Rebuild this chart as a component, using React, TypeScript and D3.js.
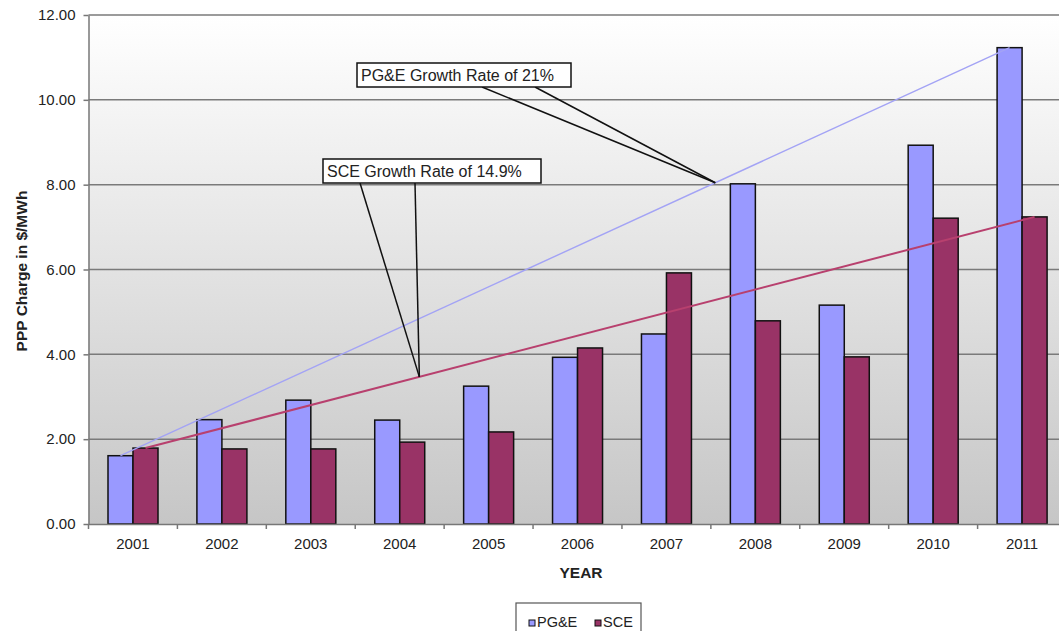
import { useEffect, useRef } from 'react'
import * as d3 from 'd3'

const years = ['2001', '2002', '2003', '2004', '2005', '2006', '2007', '2008', '2009', '2010', '2011']
const pgeValues = [1.61, 2.46, 2.92, 2.45, 3.25, 3.93, 4.48, 8.02, 5.16, 8.93, 11.23]
const sceValues = [1.79, 1.77, 1.77, 1.93, 2.17, 4.15, 5.92, 4.79, 3.94, 7.21, 7.24]
const seriesNames = ['PG&E', 'SCE']
const seriesColors = ['#9999ff', '#993366']
const trendColors = ['#a3a3f5', '#b8406e']
const yTicks = [0, 2, 4, 6, 8, 10, 12]

const W = 1059
const H = 631

const Chart = () => {
  const svgRef = useRef<SVGSVGElement>(null)

  useEffect(() => {
    if (!svgRef.current) return
    const svg = d3.select(svgRef.current)
    svg.selectAll('*').remove()

    const left = 88.5
    const right = 1066.5
    const top = 15
    const bottom = 524
    const font = '"Liberation Sans", Arial, sans-serif'

    const x0 = d3.scaleBand<string>().domain(years).range([left, right])
    const x1 = d3.scaleBand<string>().domain(seriesNames).range([19.5, 69.5])
    const y = d3.scaleLinear().domain([0, 12]).range([bottom, top])

    // background gradient
    const defs = svg.append('defs')
    const grad = defs.append('linearGradient')
      .attr('id', 'bg').attr('x1', 0).attr('y1', 0).attr('x2', 0).attr('y2', 1)
    grad.append('stop').attr('offset', '0%').attr('stop-color', '#ffffff')
    grad.append('stop').attr('offset', '100%').attr('stop-color', '#c6c6c6')

    svg.append('rect')
      .attr('x', left).attr('y', top)
      .attr('width', right - left).attr('height', bottom - top)
      .attr('fill', 'url(#bg)')

    // grid lines
    svg.append('g')
      .selectAll('line')
      .data(yTicks.filter(d => d > 0))
      .join('line')
      .attr('x1', left).attr('x2', right)
      .attr('y1', d => y(d)).attr('y2', d => y(d))
      .attr('stroke', '#7a7a7a')
      .attr('stroke-width', 1.5)

    // bars
    const data = [pgeValues, sceValues]
    data.forEach((vals, si) => {
      svg.append('g')
        .selectAll('rect')
        .data(vals)
        .join('rect')
        .attr('x', (_, i) => x0(years[i])! + x1(seriesNames[si])!)
        .attr('y', d => y(d))
        .attr('width', x1.bandwidth())
        .attr('height', d => bottom - y(d))
        .attr('fill', seriesColors[si])
        .attr('stroke', '#111')
        .attr('stroke-width', 1.5)
    })

    // axes
    const yAxis = svg.append('g')
      .attr('transform', `translate(${left},0)`)
      .call(d3.axisLeft(y).tickValues(yTicks).tickFormat(d => d3.format('.2f')(d as number)).tickSize(5).tickSizeOuter(0))
    yAxis.select('.domain').attr('stroke', '#777').attr('stroke-width', 1.5)
    yAxis.selectAll('.tick line').attr('stroke', '#777').attr('stroke-width', 1.5)
    yAxis.selectAll('.tick text')
      .attr('x', -13)
      .style('font-family', font).style('font-size', '15px').attr('fill', '#222')

    const xAxis = svg.append('g')
      .attr('transform', `translate(0,${bottom})`)
      .call(d3.axisBottom(x0).tickSize(0).tickSizeOuter(0))
    xAxis.select('.domain').attr('stroke', '#777').attr('stroke-width', 1.5)
    xAxis.selectAll('.tick text')
      .attr('y', 14)
      .style('font-family', font).style('font-size', '15px').attr('fill', '#222')

    // category separator ticks
    svg.append('g')
      .selectAll('line')
      .data(years)
      .join('line')
      .attr('x1', d => x0(d)!).attr('x2', d => x0(d)!)
      .attr('y1', bottom).attr('y2', bottom + 5)
      .attr('stroke', '#777').attr('stroke-width', 1.5)

    // trend lines
    const endpoints = data.map((vals, si) => {
      const off = x1(seriesNames[si])! + x1.bandwidth() / 2
      const a: [number, number] = [x0(years[0])! + off, y(vals[0])]
      const b: [number, number] = [x0(years[years.length - 1])! + off, y(vals[vals.length - 1])]
      return [a, b]
    })
    endpoints.forEach((pts, si) => {
      svg.append('path')
        .attr('d', d3.line()(pts))
        .attr('fill', 'none')
        .attr('stroke', trendColors[si])
        .attr('stroke-width', si === 0 ? 1.4 : 2)
    })

    // callouts
    const callouts = [
      { text: 'PG&E Growth Rate of 21%', box: [357, 63, 214, 24], feet: [482, 535], t: 0.669, si: 0 },
      { text: 'SCE Growth Rate of 14.9%', box: [323, 159, 218, 24], feet: [360, 415], t: 0.308, si: 1 }
    ]
    callouts.forEach(c => {
      const [a, b] = endpoints[c.si]
      const px = a[0] + (b[0] - a[0]) * c.t
      const py = a[1] + (b[1] - a[1]) * c.t
      const [bx, by, bw, bh] = c.box
      c.feet.forEach(fx => {
        svg.append('line')
          .attr('x1', fx).attr('y1', by + bh)
          .attr('x2', px).attr('y2', py)
          .attr('stroke', '#111').attr('stroke-width', 1.5)
      })
      svg.append('rect')
        .attr('x', bx).attr('y', by).attr('width', bw).attr('height', bh)
        .attr('fill', '#fff').attr('stroke', '#111').attr('stroke-width', 1.5)
      svg.append('text')
        .attr('x', bx + 4).attr('y', by + bh / 2 + 6)
        .style('font-family', font).style('font-size', '16px').attr('fill', '#222')
        .text(c.text)
    })

    // axis titles
    svg.append('text')
      .attr('transform', `translate(27,271) rotate(-90)`)
      .attr('text-anchor', 'middle')
      .style('font-family', font).style('font-size', '15.5px').style('font-weight', 'bold')
      .attr('fill', '#222')
      .text('PPP Charge in $/MWh')

    svg.append('text')
      .attr('x', 581).attr('y', 578)
      .attr('text-anchor', 'middle')
      .style('font-family', font).style('font-size', '15.5px').style('font-weight', 'bold')
      .attr('fill', '#222')
      .text('YEAR')

    // legend
    const lg = svg.append('g')
    lg.append('rect')
      .attr('x', 516).attr('y', 603).attr('width', 125).attr('height', 45)
      .attr('fill', '#fff').attr('stroke', '#555').attr('stroke-width', 1.2)
    const legendX = [529, 595]
    seriesNames.forEach((name, i) => {
      lg.append('rect')
        .attr('x', legendX[i]).attr('y', 620).attr('width', 6).attr('height', 6)
        .attr('fill', seriesColors[i]).attr('stroke', '#111').attr('stroke-width', 1)
      lg.append('text')
        .attr('x', legendX[i] + 8).attr('y', 627)
        .style('font-family', font).style('font-size', '14.5px').attr('fill', '#222')
        .text(name)
    })
  }, [])

  return (
    <svg
      ref={svgRef}
      width={W}
      height={H}
      style={{ position: 'absolute', left: 0, top: 0, background: '#fff', display: 'block' }}
    />
  )
}

export default function App() {
  return <Chart />
}
